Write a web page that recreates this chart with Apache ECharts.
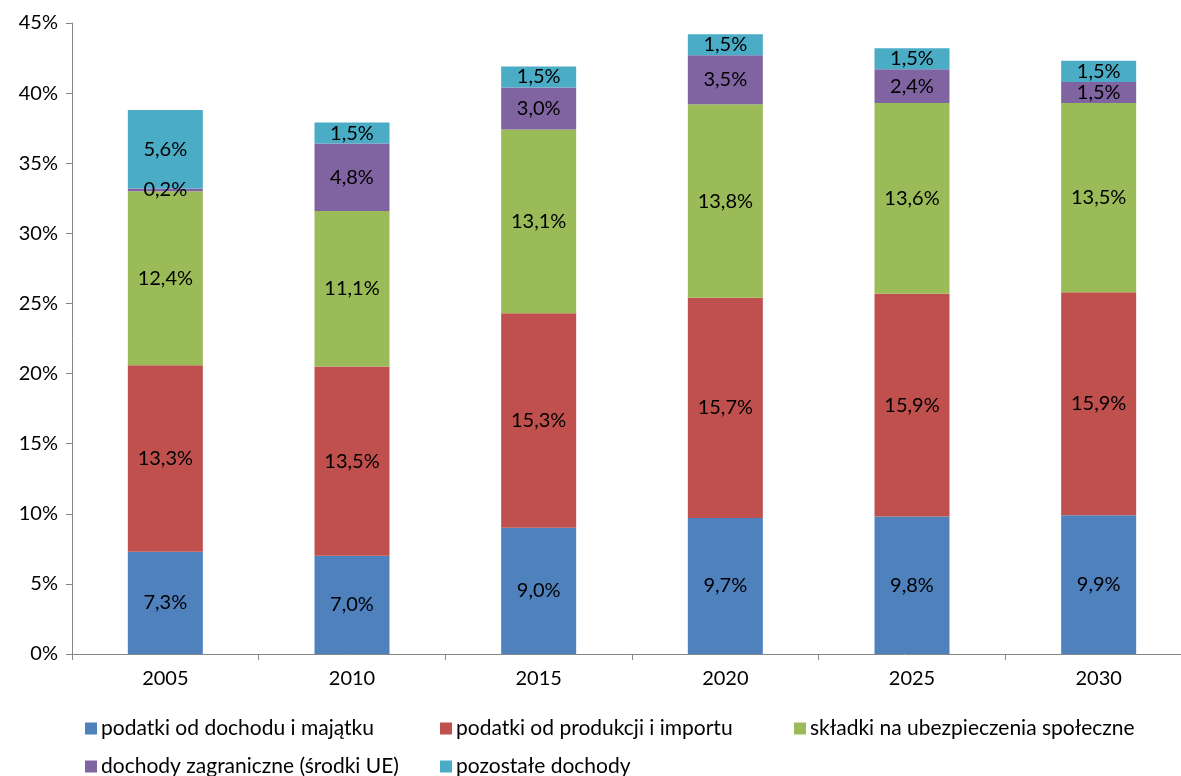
<!DOCTYPE html>
<html>
<head>
<meta charset="utf-8">
<script src="https://cdn.jsdelivr.net/npm/echarts@6/dist/echarts.min.js"></script>
<style>
  html, body { margin: 0; padding: 0; background: #fff; }
  #chart { width: 1181px; height: 776px; }
</style>
</head>
<body>
<div id="chart"></div>
<script>
// Years on the category axis
const years = ['2005', '2010', '2015', '2020', '2025', '2030'];

// Revenue components, % of GDP
const seriesNames = [
  'podatki od dochodu i majątku',
  'podatki od produkcji i importu',
  'składki na ubezpieczenia społeczne',
  'dochody zagraniczne (środki UE)',
  'pozostałe dochody'
];
const incomeTax = [7.3, 7.0, 9.0, 9.7, 9.8, 9.9];
const productionTax = [13.3, 13.5, 15.3, 15.7, 15.9, 15.9];
const socialContrib = [12.4, 11.1, 13.1, 13.8, 13.6, 13.5];
const foreignIncome = [0.2, 4.8, 3.0, 3.5, 2.4, 1.5];
const otherIncome = [5.6, 1.5, 1.5, 1.5, 1.5, 1.5];

const seriesValues = [incomeTax, productionTax, socialContrib, foreignIncome, otherIncome];
const colors = ['#4F81BD', '#C0504D', '#9BBB59', '#8064A2', '#4BACC6'];

const FONT = 'Lato, "Open Sans", sans-serif';
const FS = 20;
const pct = v => v.toFixed(1).replace('.', ',') + '%';

const chart = echarts.init(document.getElementById('chart'), null, { renderer: 'canvas' });

// Legend entries laid out on a fixed grid: three per row
const legendPos = [
  { left: 80, top: 713 },
  { left: 435, top: 713 },
  { left: 789, top: 713 },
  { left: 80, top: 751 },
  { left: 435, top: 751 }
];
const legends = seriesNames.map((n, i) => ({
  data: [n],
  left: legendPos[i].left,
  top: legendPos[i].top,
  itemWidth: 12,
  itemHeight: 12,
  itemGap: 0,
  icon: 'rect',
  selectedMode: false,
  textStyle: { fontFamily: FONT, fontSize: 21, color: '#000', padding: [0, 0, 0, -1] }
}));

chart.setOption({
  animation: false,
  backgroundColor: '#fff',
  color: colors,
  // the plot runs slightly past the right edge of the canvas
  grid: { left: 72, width: 1120, top: 23, bottom: 122, containLabel: false, outerBoundsMode: 'none' },
  legend: legends,
  xAxis: {
    type: 'category',
    data: years,
    axisLine: { lineStyle: { color: '#868686', width: 1 } },
    axisTick: { show: true, length: 6, lineStyle: { color: '#868686' }, alignWithLabel: false },
    axisLabel: { fontFamily: FONT, fontSize: FS, color: '#000', margin: 15 }
  },
  yAxis: {
    type: 'value',
    min: 0,
    max: 45,
    interval: 5,
    axisLine: { show: true, lineStyle: { color: '#868686', width: 1 } },
    axisTick: { show: true, length: 6, lineStyle: { color: '#868686' } },
    splitLine: { show: false },
    axisLabel: { fontFamily: FONT, fontSize: FS, color: '#000', margin: 14, formatter: v => v + '%' }
  },
  series: seriesNames.map((n, i) => ({
    name: n,
    type: 'bar',
    stack: 'total',
    barWidth: 75,
    data: seriesValues[i],
    itemStyle: { color: colors[i] },
    label: {
      show: true,
      position: 'inside',
      fontFamily: FONT,
      fontSize: FS,
      color: '#000',
      overflow: 'none',
      formatter: p => pct(p.value)
    },
    labelLayout: { hideOverlap: false }
  }))
});
</script>
</body>
</html>
